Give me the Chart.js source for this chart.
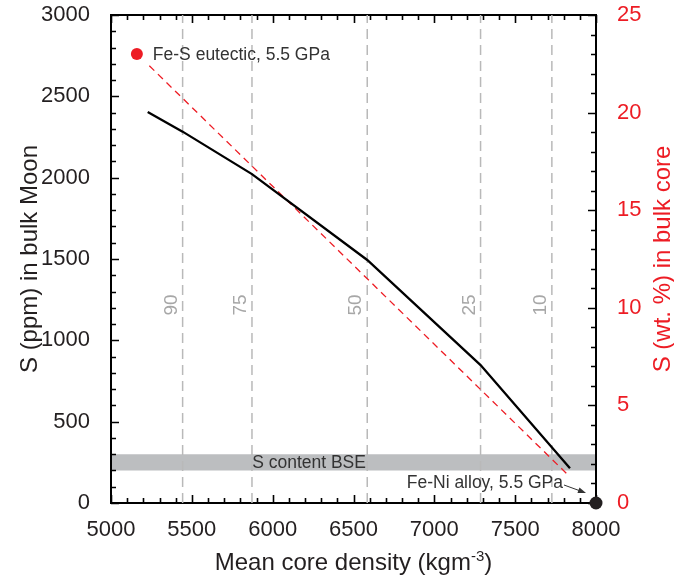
<!DOCTYPE html>
<html>
<head>
<meta charset="utf-8">
<script src="https://cdn.jsdelivr.net/npm/chart.js@4/dist/chart.umd.min.js"></script>
<style>
  html, body { margin: 0; padding: 0; background: #fff; }
  canvas { display: block; }
</style>
</head>
<body>
<canvas id="c" width="674" height="581"></canvas>
<script>
// ---- data ----
const densityKgm3      = [5227, 5443, 5872, 6585, 7286, 7839];   // mean core density
const sBulkMoonPpm     = [2404, 2283, 2022, 1494,  848,  213];   // S (ppm) in bulk Moon
const mixDensity       = [5237, 7834];                           // red dashed mixing line
const mixSCoreWt       = [22.4, 1.38];                           // S (wt. %) in bulk core
const eutecticDensity  = [5160];
const eutecticSCoreWt  = [23.0];
const alloyDensity     = [8000];
const alloySPpm        = [0];
const fractionDensity  = [5443, 5872, 6585, 7286, 7727];         // vertical dashed guides
const fractionLabels   = ['90', '75', '50', '25', '10'];
const bseBandPpm       = [200, 300];                             // S content BSE band
const bseBandDensity   = [5000, 8000];
const xRange           = [5000, 8000];
const yRange           = [0, 3000];
const y2Range          = [0, 25];

const FONT = "'Liberation Sans', Arial, Helvetica, sans-serif";
const RED = '#ed1c24';
const INK = '#231f20';

const datasets = [];

// grey band
datasets.push({
  label: 'band',
  data: bseBandDensity.map(x => ({x: x, y: bseBandPpm[1]})),
  yAxisID: 'y', showLine: true, borderWidth: 0, pointRadius: 0,
  backgroundColor: '#bcbec0', borderColor: 'rgba(0,0,0,0)',
  fill: {value: bseBandPpm[0]}, order: 20
});

// vertical dashed guides
fractionDensity.forEach((d, i) => {
  datasets.push({
    label: 'guide' + fractionLabels[i],
    data: [{x: d, y: yRange[0]}, {x: d, y: yRange[1]}],
    yAxisID: 'y', showLine: true, borderWidth: 1.5, pointRadius: 0,
    borderColor: '#b9b9b9', borderDash: [10, 6], fill: false, order: 15
  });
});

// red dashed mixing line
datasets.push({
  label: 'mix',
  data: mixDensity.map((x, i) => ({x: x, y: mixSCoreWt[i]})),
  yAxisID: 'y2', showLine: true, borderWidth: 1.3, pointRadius: 0,
  borderColor: RED, borderDash: [7, 5], fill: false, order: 6
});

// black model curve
datasets.push({
  label: 'moon',
  data: densityKgm3.map((x, i) => ({x: x, y: sBulkMoonPpm[i]})),
  yAxisID: 'y', showLine: true, borderWidth: 2.3, pointRadius: 0,
  borderColor: '#000', fill: false, order: 5, tension: 0
});

// Fe-S eutectic point
datasets.push({
  label: 'eutectic',
  data: eutecticDensity.map((x, i) => ({x: x, y: eutecticSCoreWt[i]})),
  yAxisID: 'y2', showLine: false, pointRadius: 6, pointBorderWidth: 0,
  pointBackgroundColor: RED, pointBorderColor: RED, order: 1, clip: false
});

// Fe-Ni alloy point
datasets.push({
  label: 'alloy',
  data: alloyDensity.map((x, i) => ({x: x, y: alloySPpm[i]})),
  yAxisID: 'y', showLine: false, pointRadius: 6.5, pointBorderWidth: 0,
  pointBackgroundColor: INK, pointBorderColor: INK, order: 0, clip: false
});

const frameAndTicks = {
  id: 'frameAndTicks',
  afterDatasetDraw(chart, args) {
    if (chart.data.datasets[args.index].label !== 'band') return;
    const {ctx, chartArea: a, scales: {x, y, y2}} = chart;
    ctx.save();
    ctx.strokeStyle = '#000';
    ctx.lineWidth = 2;
    ctx.lineCap = 'square';
    ctx.strokeRect(a.left, a.top, a.right - a.left, a.bottom - a.top);
    ctx.lineWidth = 1.6;
    ctx.lineCap = 'butt';
    ctx.beginPath();
    for (let v = xRange[0]; v <= xRange[1]; v += 100) {
      const p = Math.round(x.getPixelForValue(v)) + 0.5;
      const L = (v % 500 === 0) ? 8 : 5;
      ctx.moveTo(p, a.bottom); ctx.lineTo(p, a.bottom - L);
      ctx.moveTo(p, a.top); ctx.lineTo(p, a.top + L);
    }
    for (let v = yRange[0]; v <= yRange[1]; v += 100) {
      const p = Math.round(y.getPixelForValue(v)) + 0.5;
      const L = (v % 500 === 0) ? 8 : 5;
      ctx.moveTo(a.left, p); ctx.lineTo(a.left + L, p);
    }
    for (let v = y2Range[0]; v <= y2Range[1]; v += 1) {
      const p = Math.round(y2.getPixelForValue(v)) + 0.5;
      const L = (v % 5 === 0) ? 8 : 5;
      ctx.moveTo(a.right, p); ctx.lineTo(a.right - L, p);
    }
    ctx.stroke();
    ctx.restore();
  },
  afterDatasetsDraw(chart) {
    const {ctx, chartArea: a, scales: {x, y, y2}} = chart;
    ctx.save();
    // guide labels
    ctx.fillStyle = '#a7a7a7';
    ctx.font = '19px ' + FONT;
    ctx.textAlign = 'center';
    ctx.textBaseline = 'middle';
    fractionDensity.forEach((d, i) => {
      const px = x.getPixelForValue(d) - 11;
      ctx.save();
      ctx.translate(px, 305);
      ctx.rotate(-Math.PI / 2);
      ctx.fillText(fractionLabels[i], 0, 0);
      ctx.restore();
    });
    // band label
    ctx.fillStyle = '#333';
    ctx.font = '17.5px ' + FONT;
    ctx.fillText('S content BSE', x.getPixelForValue(6225), y.getPixelForValue((bseBandPpm[0] + bseBandPpm[1]) / 2) + 1);
    // eutectic label
    const ex = x.getPixelForValue(eutecticDensity[0]);
    const ey = y2.getPixelForValue(eutecticSCoreWt[0]);
    ctx.textAlign = 'left';
    ctx.fillStyle = '#333';
    ctx.fillText('Fe-S eutectic, 5.5 GPa', ex + 16, ey + 1);
    // alloy label + arrow
    const ax = x.getPixelForValue(alloyDensity[0]);
    const ay = y.getPixelForValue(alloySPpm[0]);
    ctx.textAlign = 'right';
    ctx.fillText('Fe-Ni alloy, 5.5 GPa', ax - 33, ay - 20);
    ctx.strokeStyle = '#333';
    ctx.fillStyle = '#333';
    ctx.lineWidth = 1;
    const x0 = ax - 32, y0 = ay - 18, x1 = ax - 10, y1 = ay - 10;
    ctx.beginPath(); ctx.moveTo(x0, y0); ctx.lineTo(x1 - 5, y1 - 1.8); ctx.stroke();
    const ang = Math.atan2(y1 - y0, x1 - x0);
    ctx.beginPath();
    ctx.moveTo(x1, y1);
    ctx.lineTo(x1 - 8 * Math.cos(ang) + 3 * Math.sin(ang), y1 - 8 * Math.sin(ang) - 3 * Math.cos(ang));
    ctx.lineTo(x1 - 8 * Math.cos(ang) - 3 * Math.sin(ang), y1 - 8 * Math.sin(ang) + 3 * Math.cos(ang));
    ctx.closePath(); ctx.fill();

    // axis titles
    ctx.fillStyle = INK;
    ctx.textBaseline = 'alphabetic';
    const main = 'Mean core density (kgm';
    ctx.font = '24px ' + FONT;
    const w1 = ctx.measureText(main).width;
    ctx.font = '15px ' + FONT;
    const w2 = ctx.measureText('-3').width;
    ctx.font = '24px ' + FONT;
    const w3 = ctx.measureText(')').width;
    const total = w1 + w2 + w3;
    let sx = (a.left + a.right) / 2 - total / 2;
    ctx.textAlign = 'left';
    ctx.fillText(main, sx, 570);
    ctx.font = '15px ' + FONT;
    ctx.fillText('-3', sx + w1, 561);
    ctx.font = '24px ' + FONT;
    ctx.fillText(')', sx + w1 + w2, 570);
    // left
    ctx.textAlign = 'center';
    ctx.save();
    ctx.translate(36.5, (a.top + a.bottom) / 2);
    ctx.rotate(-Math.PI / 2);
    ctx.fillText('S (ppm) in bulk Moon', 0, 0);
    ctx.restore();
    // right
    ctx.fillStyle = RED;
    ctx.save();
    ctx.translate(670, (a.top + a.bottom) / 2);
    ctx.rotate(-Math.PI / 2);
    ctx.fillText('S (wt. %) in bulk core', 0, 0);
    ctx.restore();
    ctx.restore();
  }
};

const plain = v => String(v);
const zeroPad = s => { s.paddingTop = 0; s.paddingBottom = 0; s.paddingLeft = 0; s.paddingRight = 0; };

new Chart(document.getElementById('c'), {
  type: 'scatter',
  data: { datasets: datasets },
  options: {
    responsive: false,
    devicePixelRatio: 1,
    animation: false,
    layout: { padding: { top: 15, left: 0, right: 0, bottom: 0 } },
    plugins: { legend: { display: false }, tooltip: { enabled: false } },
    scales: {
      x: {
        type: 'linear', position: 'bottom', min: xRange[0], max: xRange[1],
        grid: { display: false, drawTicks: false }, border: { display: false },
        ticks: { stepSize: 500, padding: 14, autoSkip: false, maxRotation: 0,
                 color: INK, font: { size: 22, family: FONT }, callback: plain },
        afterFit: s => { s.height = 78; zeroPad(s); }
      },
      y: {
        type: 'linear', position: 'left', min: yRange[0], max: yRange[1],
        grid: { display: false, drawTicks: false }, border: { display: false },
        ticks: { stepSize: 500, padding: 21, autoSkip: false, color: INK,
                 font: { size: 22, family: FONT }, callback: plain },
        afterFit: s => { s.width = 111; zeroPad(s); }
      },
      y2: {
        type: 'linear', position: 'right', min: y2Range[0], max: y2Range[1],
        grid: { display: false, drawTicks: false }, border: { display: false },
        ticks: { stepSize: 5, padding: 21, autoSkip: false, color: RED,
                 font: { size: 22, family: FONT }, callback: plain },
        afterFit: s => { s.width = 78; zeroPad(s); }
      }
    }
  },
  plugins: [frameAndTicks]
});
</script>
</body>
</html>
